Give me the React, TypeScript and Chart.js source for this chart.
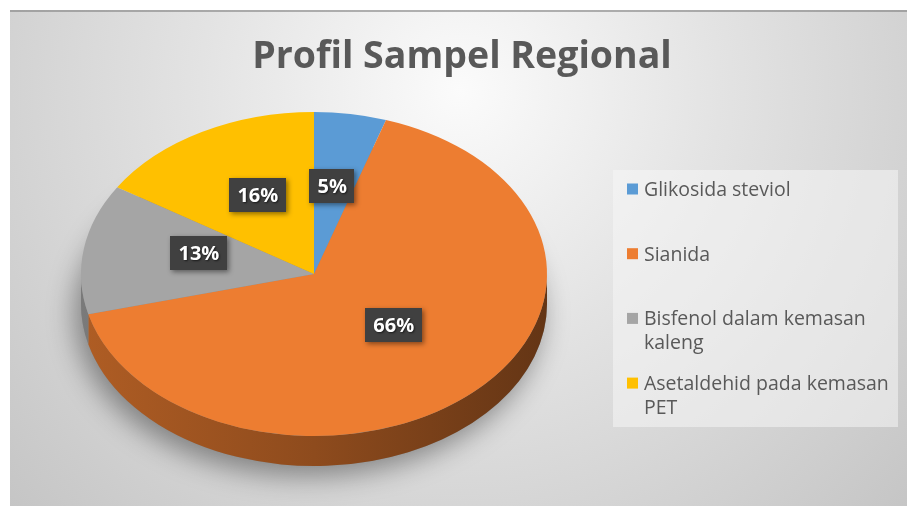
import React, { useEffect, useRef } from 'react';
import { Chart, registerables } from 'chart.js';

Chart.register(...registerables);

const chartTitle = 'Profil Sampel Regional';
const categories = [
  'Glikosida steviol',
  'Sianida',
  'Bisfenol dalam kemasan kaleng',
  'Asetaldehid pada kemasan PET',
];
const shares = [5, 66, 13, 16];
const sliceColors = ['#5b9bd5', '#ed7d31', '#a5a5a5', '#ffc000'];

const W = 907;
const H = 506;
const PIE = { cx: 314, cy: 274, rx: 233, ry: 162, depth: 30, labelLift: 8 };
const FONT = '"Open Sans", "DejaVu Sans", sans-serif';

function shade(hex: string, f: number) {
  const n = parseInt(hex.slice(1), 16);
  const r = Math.round(((n >> 16) & 255) * f);
  const g = Math.round(((n >> 8) & 255) * f);
  const b = Math.round((n & 255) * f);
  return `rgb(${r},${g},${b})`;
}

function wrap(ctx: CanvasRenderingContext2D, text: string, maxW: number) {
  const words = text.split(' ');
  const lines: string[] = [];
  let cur = '';
  for (const w of words) {
    const t = cur ? cur + ' ' + w : w;
    if (cur && ctx.measureText(t).width > maxW) {
      lines.push(cur);
      cur = w;
    } else cur = t;
  }
  if (cur) lines.push(cur);
  return lines;
}

let transformed = false;

const excelPlugin = {
  id: 'excel3d',
  beforeDraw(chart: any) {
    const ctx: CanvasRenderingContext2D = chart.ctx;
    ctx.save();
    ctx.fillStyle = '#ffffff';
    ctx.fillRect(0, 0, W, H);
    const g = ctx.createRadialGradient(460, 90, 0, 460, 90, 650);
    g.addColorStop(0, '#fbfbfb');
    g.addColorStop(0.4, '#e3e3e3');
    g.addColorStop(1, '#c2c2c2');
    ctx.fillStyle = g;
    ctx.fillRect(10, 10, W - 10, H - 10);
    ctx.fillStyle = 'rgba(130,130,130,0.6)';
    ctx.fillRect(10, 10, W - 10, 2);

    // title
    ctx.fillStyle = '#595959';
    ctx.font = `bold 37.5px ${FONT}`;
    ctx.textAlign = 'center';
    ctx.textBaseline = 'alphabetic';
    ctx.fillText(chartTitle, 462, 68);

    // legend
    ctx.fillStyle = 'rgba(246,246,246,0.55)';
    ctx.fillRect(613, 170, 285, 257);
    ctx.font = `19.5px ${FONT}`;
    ctx.textAlign = 'left';
    categories.forEach((c, i) => {
      const base = 196 + i * 64.7;
      ctx.fillStyle = sliceColors[i];
      ctx.fillRect(627, base - 12.5, 11, 11);
      ctx.fillStyle = '#595959';
      wrap(ctx, c, 252).forEach((ln, j) => ctx.fillText(ln, 644, base + j * 24));
    });
    ctx.restore();
  },
  beforeDatasetsDraw(chart: any) {
    const ctx: CanvasRenderingContext2D = chart.ctx;
    const els = chart.getDatasetMeta(0).data as any[];
    transformed = false;
    if (!els.length) return;
    const { cx, cy, rx, ry, depth } = PIE;
    ctx.save();
    ctx.shadowColor = 'rgba(0,0,0,0.4)';
    ctx.shadowBlur = 28;
    ctx.shadowOffsetX = -6;
    ctx.shadowOffsetY = 10;
    ctx.fillStyle = '#8a8a8a';
    ctx.beginPath();
    ctx.ellipse(cx, cy + depth, rx, ry, 0, 0, Math.PI * 2);
    ctx.fill();
    ctx.restore();

    ctx.save();
    els.forEach((el, i) => {
      const { startAngle, endAngle } = el.getProps(['startAngle', 'endAngle'], true);
      const col = sliceColors[i];
      for (let k = -1; k <= 1; k++) {
        const lo = Math.max(startAngle, k * 2 * Math.PI);
        const hi = Math.min(endAngle, k * 2 * Math.PI + Math.PI);
        if (hi <= lo) continue;
        const grad = ctx.createLinearGradient(cx - rx, 0, cx + rx, 0);
        grad.addColorStop(0, shade(col, 0.74));
        grad.addColorStop(0.5, shade(col, 0.6));
        grad.addColorStop(1, shade(col, 0.42));
        ctx.fillStyle = grad;
        ctx.beginPath();
        ctx.ellipse(cx, cy, rx, ry, 0, lo, hi);
        ctx.ellipse(cx, cy + depth, rx, ry, 0, hi, lo, true);
        ctx.closePath();
        ctx.fill();
      }
    });
    ctx.restore();

    const ref = els[0];
    const R = ref.outerRadius;
    ctx.save();
    ctx.translate(cx, cy);
    ctx.scale(rx / R, ry / R);
    ctx.translate(-ref.x, -ref.y);
    transformed = true;
  },
  afterDatasetsDraw(chart: any) {
    const ctx: CanvasRenderingContext2D = chart.ctx;
    if (!transformed) return;
    ctx.restore();
    transformed = false;
    const els = chart.getDatasetMeta(0).data as any[];
    const total = shares.reduce((a, b) => a + b, 0);
    const { cx, cy, rx, ry, labelLift } = PIE;
    els.forEach((el, i) => {
      const p = el.tooltipPosition(true);
      const R = el.outerRadius;
      const x = cx + ((p.x - el.x) * rx) / R;
      const y = cy + ((p.y - el.y) * ry) / R - labelLift;
      const txt = Math.round((shares[i] / total) * 100) + '%';
      ctx.save();
      ctx.font = `bold 20px ${FONT}`;
      const w = ctx.measureText(txt).width + 16;
      const h = 34;
      ctx.shadowColor = 'rgba(0,0,0,0.45)';
      ctx.shadowBlur = 5;
      ctx.shadowOffsetX = 2;
      ctx.shadowOffsetY = 2;
      ctx.fillStyle = '#404040';
      ctx.fillRect(Math.round(x - w / 2), Math.round(y - h / 2), Math.round(w), h);
      ctx.shadowColor = 'rgba(0,0,0,0.6)';
      ctx.shadowBlur = 2;
      ctx.shadowOffsetX = 1;
      ctx.shadowOffsetY = 1;
      ctx.fillStyle = '#ffffff';
      ctx.textAlign = 'center';
      ctx.textBaseline = 'middle';
      ctx.fillText(txt, x, y + 1);
      ctx.restore();
    });
  },
};

export default function App() {
  const ref = useRef<HTMLCanvasElement | null>(null);
  useEffect(() => {
    if (!ref.current) return;
    const chart = new Chart(ref.current, {
      type: 'pie',
      data: {
        labels: categories,
        datasets: [
          {
            data: shares,
            backgroundColor: sliceColors,
            borderWidth: 0,
          },
        ],
      },
      options: {
        responsive: false,
        animation: false,
        layout: { padding: 0 },
        plugins: {
          legend: { display: false },
          tooltip: { enabled: false },
          title: { display: false },
        },
      },
      plugins: [excelPlugin],
    });
    return () => chart.destroy();
  }, []);
  return (
    <canvas
      ref={ref}
      width={W}
      height={H}
      style={{ position: 'fixed', left: 0, top: 0, display: 'block', width: W, height: H }}
    />
  );
}
